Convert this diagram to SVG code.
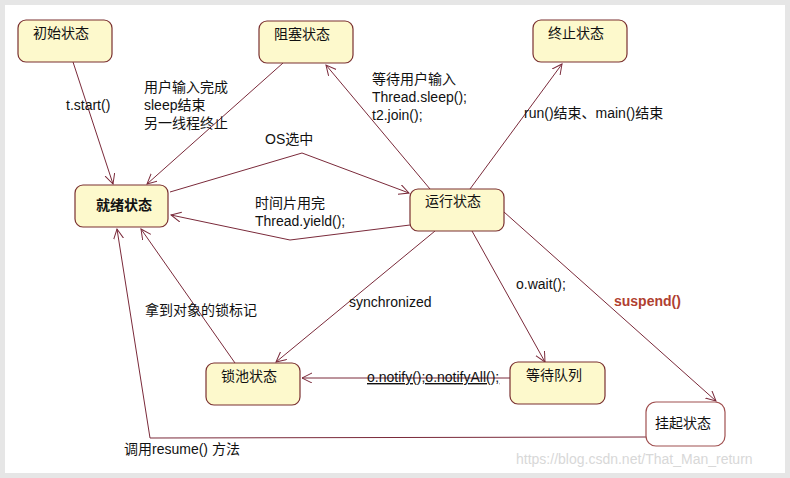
<svg xmlns="http://www.w3.org/2000/svg" width="790" height="478" viewBox="0 0 790 478">
<style>
.n rect{fill:#fdf9cc;stroke:#7a3030;stroke-width:1.2}
.n text,.t{font-family:"Liberation Sans","Noto Sans CJK SC",sans-serif;font-size:14px;fill:#111}
.c path{fill:none;stroke:#7a2a3a;stroke-width:1}
</style>
<defs><marker id="a" markerWidth="12" markerHeight="12" refX="10" refY="5" orient="auto" markerUnits="userSpaceOnUse"><path d="M0,0L10,5L0,10" fill="none" stroke="#7a2a3a"/></marker></defs>
<rect x="0" y="0" width="790" height="478" fill="#e6e6e6"/>
<rect x="5" y="5" width="780" height="468" fill="#fff"/>
<g class="c">
<path d="M73,62L113,184" marker-end="url(#a)"/>
<path d="M283,63L147,184" marker-end="url(#a)"/>
<path d="M430,189L326,65" marker-end="url(#a)"/>
<path d="M470,189L562,64" marker-end="url(#a)"/>
<path d="M170,192L302,153L409,193" marker-end="url(#a)"/>
<path d="M410,225L290,240L171,215" marker-end="url(#a)"/>
<path d="M435,231L276,362" marker-end="url(#a)"/>
<path d="M472,231L545,362" marker-end="url(#a)"/>
<path d="M510,378L302,378" marker-end="url(#a)"/>
<path d="M235,363L141,229" marker-end="url(#a)"/>
<path d="M504,212L716,401" stroke="#a05050" marker-end="url(#a)"/>
<path d="M646,437L150,438L117,229" stroke="#a05050" marker-end="url(#a)"/>
</g>
<g id="init" class="n"><rect x="18" y="20" width="94" height="42" rx="8"/><text x="33" y="38">初始状态</text></g>
<g id="blocked" class="n"><rect x="259" y="21" width="94" height="42" rx="8"/><text x="274" y="39">阻塞状态</text></g>
<g id="term" class="n"><rect x="533" y="20" width="94" height="42" rx="8"/><text x="548" y="38">终止状态</text></g>
<g id="ready" class="n"><rect x="75" y="185" width="93" height="42" rx="8"/><text x="96" y="210" font-size="11" font-weight="bold">就绪状态</text></g>
<g id="run" class="n"><rect x="410" y="189" width="94" height="42" rx="8"/><text x="425" y="206">运行状态</text></g>
<g id="lock" class="n"><rect x="206" y="363" width="94" height="42" rx="8"/><text x="221" y="381">锁池状态</text></g>
<g id="wait" class="n"><rect x="510" y="362" width="95" height="42" rx="8"/><text x="526" y="380">等待队列</text></g>
<g id="susp" class="n"><rect x="646" y="402" width="79" height="44" rx="10" style="fill:#fff;stroke:#a05050"/><text x="655" y="428">挂起状态</text></g>
<g class="t">
<text class="t" x="66" y="110">t.start()</text>
<text class="t" x="144" y="92">用户输入完成</text>
<text class="t" x="144" y="110">sleep结束</text>
<text class="t" x="144" y="128">另一线程终止</text>
<text class="t" x="372" y="84">等待用户输入</text>
<text class="t" x="372" y="102">Thread.sleep();</text>
<text class="t" x="372" y="120">t2.join();</text>
<text class="t" x="524" y="118">run()结束、main()结束</text>
<text class="t" x="265" y="144">OS选中</text>
<text class="t" x="255" y="208">时间片用完</text>
<text class="t" x="255" y="226">Thread.yield();</text>
<text class="t" x="516" y="289">o.wait();</text>
<text class="t" x="614" y="306" font-size="11" font-weight="bold" style="fill:#b04030">suspend()</text>
<text class="t" x="349" y="307">synchronized</text>
<text class="t" x="145" y="315">拿到对象的锁标记</text>
<text class="t" x="367" y="382" text-decoration="underline">o.notify();o.notifyAll();</text>
<text class="t" x="124" y="454">调用resume() 方法</text>
<text class="t" x="516" y="464" style="fill:#d8d8d8">https://blog.csdn.net/That_Man_return</text>
</g>
</svg>
